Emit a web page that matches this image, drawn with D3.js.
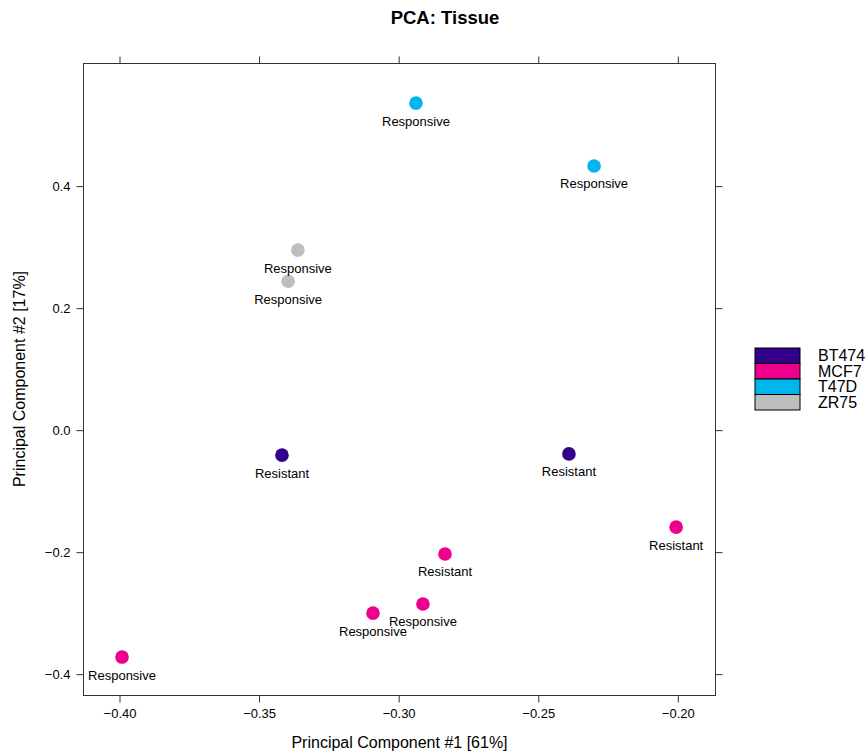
<!DOCTYPE html>
<html><head><meta charset="utf-8">
<script src="https://cdn.jsdelivr.net/npm/d3@7"></script>
<style>body{margin:0;background:#fff;} svg{display:block;font-family:"Liberation Sans",Arial,sans-serif;}</style>
</head><body>
<svg id="chart" width="868" height="753"></svg>
<script>
const cellLines = ["BT474","MCF7","T47D","ZR75"];
const lineColors = ["#33008C","#EC008C","#00B6EC","#BEBEBE"];
const pc1 = [-0.2938,-0.2300,-0.3361,-0.3396,-0.3418,-0.2390,-0.2006,-0.2834,-0.2913,-0.3092,-0.3991];
const pc2 = [0.536,0.433,0.295,0.244,-0.041,-0.039,-0.159,-0.203,-0.285,-0.300,-0.372];
const sampleLine = ["T47D","T47D","ZR75","ZR75","BT474","BT474","MCF7","MCF7","MCF7","MCF7","MCF7"];
const sampleLabel = ["Responsive","Responsive","Responsive","Responsive","Resistant","Resistant","Resistant","Resistant","Responsive","Responsive","Responsive"];
const xTicks = [-0.40,-0.35,-0.30,-0.25,-0.20];
const yTicks = [-0.4,-0.2,0.0,0.2,0.4];

const svg = d3.select("#chart");
const L=83.5, R=715.5, T=63.5, B=695.5;
const x = d3.scaleLinear().domain([-0.4129,-0.1865]).range([L,R]);
const y = d3.scaleLinear().domain([-0.435,0.601]).range([B,T]);
const color = d3.scaleOrdinal().domain(cellLines).range(lineColors);
const axisCol = "#333";

svg.append("rect").attr("x",L).attr("y",T).attr("width",R-L).attr("height",B-T)
  .attr("fill","none").attr("stroke",axisCol).attr("stroke-width",1);

function styleAxis(g, showLabels){
  g.select(".domain").remove();
  g.selectAll(".tick line").attr("stroke",axisCol);
  g.selectAll(".tick text").attr("fill","#000").style("font-size","13px").style("font-family","Liberation Sans, Arial, sans-serif");
  if(!showLabels) g.selectAll(".tick text").remove();
}
const fmtX = d => d3.format(".2f")(d).replace("-","\u2212");
const fmtY = d => d3.format(".1f")(d).replace("-","\u2212");

svg.append("g").attr("transform",`translate(0,${B})`)
  .call(d3.axisBottom(x).tickValues(xTicks).tickFormat(fmtX).tickSize(7).tickPadding(6))
  .call(g=>styleAxis(g,true));
svg.append("g").attr("transform",`translate(0,${T})`)
  .call(d3.axisTop(x).tickValues(xTicks).tickSize(7))
  .call(g=>styleAxis(g,false));
svg.append("g").attr("transform",`translate(${L},0)`)
  .call(d3.axisLeft(y).tickValues(yTicks).tickFormat(fmtY).tickSize(7).tickPadding(6))
  .call(g=>styleAxis(g,true));
svg.append("g").attr("transform",`translate(${R},0)`)
  .call(d3.axisRight(y).tickValues(yTicks).tickSize(7))
  .call(g=>styleAxis(g,false));

const data = pc1.map((v,i)=>({x:v,y:pc2[i],line:sampleLine[i],label:sampleLabel[i]}));
svg.append("g").selectAll("circle").data(data).join("circle")
  .attr("cx",d=>x(d.x)).attr("cy",d=>y(d.y)).attr("r",6.8)
  .attr("fill",d=>color(d.line));
svg.append("g").selectAll("text").data(data).join("text")
  .attr("x",d=>x(d.x)).attr("y",d=>y(d.y)+22.5)
  .attr("text-anchor","middle").style("font-size","13px").attr("fill","#000")
  .text(d=>d.label);

svg.append("text").attr("x",445).attr("y",24).attr("text-anchor","middle")
  .style("font-size","18.5px").style("font-weight","bold").text("PCA: Tissue");
svg.append("text").attr("x",399.5).attr("y",748).attr("text-anchor","middle")
  .style("font-size","16px").text("Principal Component #1 [61%]");
svg.append("text").attr("transform","translate(25,379) rotate(-90)").attr("text-anchor","middle")
  .style("font-size","16px").text("Principal Component #2 [17%]");

const lg = svg.append("g");
const boxH = 15.5, lx=755, ly=348;
cellLines.forEach((c,i)=>{
  lg.append("rect").attr("x",lx).attr("y",ly+i*boxH).attr("width",45).attr("height",boxH)
    .attr("fill",color(c)).attr("stroke","#000").attr("stroke-width",1);
  lg.append("text").attr("x",818).attr("y",ly+i*boxH+boxH/2+5.5).style("font-size","16px").text(c);
});
</script>
</body></html>
